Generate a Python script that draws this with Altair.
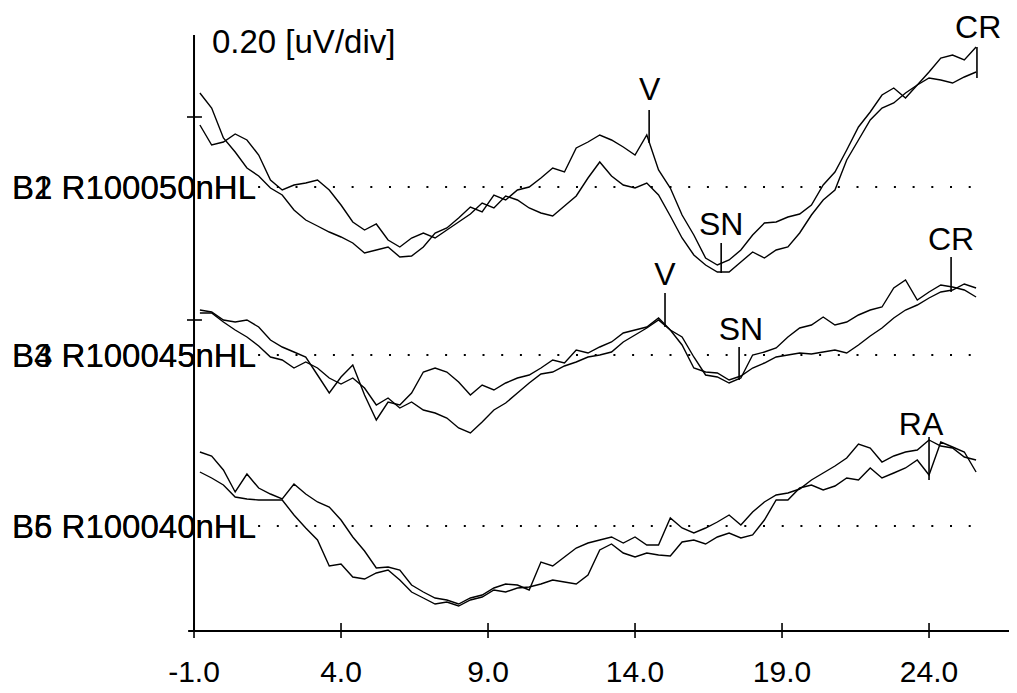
import altair as alt
import pandas as pd

# ---------------- data ----------------
# sample times of the averaged responses (ms)
times = [round(-0.8 + 0.4 * i, 1) for i in range(67)]

# amplitudes relative to each record's baseline, in units of 0.01 uV
b1 = [94, 79, 49, 35, 19, 11, -1, -8, -23, -33, -39, -45, -50, -56, -66, -63, -60, -70, -69, -60,
      -46, -41, -31, -20, -25, -8, -13, -3, 0, 9, 19, 15, 39, 45, 52, 47, 40, 32, 52, 17,
      -1, -28, -48, -71, -78, -73, -63, -48, -36, -35, -30, -27, -18, 2, 15, 37, 60, 75, 92, 99,
      89, 102, 115, 129, 132, 127, 140]
b2 = [62, 42, 45, 53, 47, 32, 7, -3, 2, 4, 7, -3, -18, -35, -43, -37, -53, -60, -51, -46,
      -51, -43, -35, -27, -16, -21, -9, -13, -21, -26, -29, -19, -9, 9, 25, 11, 2, -1, 4, -8,
      -29, -51, -68, -78, -85, -85, -75, -65, -71, -63, -60, -46, -28, -13, -3, 27, 47, 67, 79, 84,
      94, 102, 109, 107, 104, 110, 115]
b3 = [45, 43, 35, 33, 35, 28, 15, 8, 3, -2, -20, -38, -22, -10, -40, -65, -47, -50, -38, -17,
      -13, -17, -27, -40, -30, -35, -28, -23, -20, -13, -5, -8, 5, 2, 8, 13, 22, 25, 28, 37,
      25, 18, -2, -20, -22, -28, -23, 0, 3, 7, 18, 27, 30, 38, 30, 33, 40, 45, 48, 67,
      75, 55, 63, 70, 68, 65, 58]
b4 = [42, 42, 33, 25, 18, 9, -2, -5, -13, -7, -13, -23, -29, -23, -33, -50, -43, -53, -47, -55,
      -58, -63, -73, -78, -67, -55, -48, -38, -28, -19, -17, -11, -7, -2, 0, 3, 13, 20, 27, 35,
      25, 10, -13, -17, -18, -25, -21, -13, -8, -2, 0, 2, 1, 3, 5, 2, 10, 19, 27, 37,
      45, 50, 57, 63, 65, 71, 67]
b5 = [74, 70, 56, 34, 52, 38, 32, 27, 42, 32, 24, 19, 6, -11, -25, -42, -41, -44, -59, -66,
      -72, -74, -78, -72, -69, -62, -58, -59, -64, -36, -40, -31, -22, -17, -14, -11, -17, -11, -19, -19,
      8, -2, -7, -2, 4, 11, 1, 14, 24, 31, 33, 37, 46, 53, 60, 68, 82, 78, 64, 70,
      74, 76, 86, 80, 78, 69, 66]
b6 = [54, 48, 41, 29, 27, 26, 26, 26, 11, -2, -14, -40, -38, -51, -53, -47, -44, -54, -66, -72,
      -78, -76, -80, -74, -71, -64, -66, -62, -61, -58, -54, -56, -58, -49, -24, -18, -27, -31, -27, -29,
      -30, -16, -14, -18, -11, -7, -12, -9, 6, 26, 26, 38, 41, 36, 40, 48, 46, 58, 48, 53,
      58, 66, 51, 84, 79, 74, 54]

records = ["B1 R100050nHL", "B2 R100050nHL", "B3 R100045nHL",
           "B4 R100045nHL", "B5 R100040nHL", "B6 R100040nHL"]
amplitudes = [b1, b2, b3, b4, b5, b6]
record_offsets = [4.44, 4.44, 2.76, 2.76, 1.05, 1.05]   # uV position of each record's baseline

# peak markers
marker_labels = ["V", "SN", "CR", "V", "SN", "CR", "RA"]
marker_times = [14.48, 16.93, 25.63, 15.02, 17.54, 24.75, 24.0]
marker_top = [5.21, 3.88, 5.84, 3.38, 2.84, 3.74, 1.94]
marker_bottom = [4.88, 3.58, 5.53, 3.04, 2.51, 3.39, 1.51]
marker_text_x = [14.5, 16.93, 25.67, 15.02, 17.6, 24.75, 23.73]
marker_text_y = [5.31, 3.96, 5.93, 3.46, 2.91, 3.81, 1.96]

tick_values = [-1.0, 4.0, 9.0, 14.0, 19.0, 24.0]
tick_labels = ["-1.0", "4.0", "9.0", "14.0", "19.0", "24.0"]
scale_text = "0.20 [uV/div]"

X_DOMAIN = [-7.327, 26.72]
Y_DOMAIN = [-0.57, 6.23]
FONT = "Liberation Sans, Arial, sans-serif"


def xs(field):
    return alt.X(field, type="quantitative", scale=alt.Scale(domain=X_DOMAIN, nice=False, zero=False), axis=None)


def ys(field):
    return alt.Y(field, type="quantitative", scale=alt.Scale(domain=Y_DOMAIN, nice=False, zero=False), axis=None)


# ---------------- tables ----------------
rows = []
for name, amp, off in zip(records, amplitudes, record_offsets):
    for t, a in zip(times, amp):
        rows.append({"rec": name, "t": t, "y": off + a / 100.0})
traces = pd.DataFrame(rows)

base_df = pd.DataFrame({"x": [1.18] * 3, "x2": [25.46] * 3, "y": sorted(set(record_offsets), reverse=True)})
label_df = pd.DataFrame({"x": [-7.19] * 6, "y": [o - 0.12 for o in record_offsets], "text": records})
marker_df = pd.DataFrame({"x": marker_times, "y": marker_top, "y2": marker_bottom})
marker_text_df = pd.DataFrame({"x": marker_text_x, "y": marker_text_y, "text": marker_labels})
xtick_df = pd.DataFrame({"x": tick_values, "y": [-0.07] * 6, "y2": [0.08] * 6})
xlab_df = pd.DataFrame({"x": tick_values, "y": [-0.51] * 6, "text": tick_labels})
ytick_df = pd.DataFrame({"x": [-1.24, -1.24], "x2": [-0.73, -0.73], "y": [5.14, 3.11]})
xaxis_df = pd.DataFrame({"x": [-1.2], "x2": [26.72], "y": [0.0]})
yaxis_df = pd.DataFrame({"x": [-1.0], "y": [0.0], "y2": [5.96]})
scale_df = pd.DataFrame({"x": [-0.39], "y": [5.78], "text": [scale_text]})

# ---------------- layers ----------------
lines = alt.Chart(traces).mark_line(color="black", strokeWidth=1.4).encode(
    x=xs("t"), y=ys("y"), detail="rec:N")

dotted = alt.Chart(base_df).mark_rule(color="black", strokeWidth=2, strokeDash=[2, 16.7]).encode(
    x=xs("x"), x2="x2:Q", y=ys("y"))

xaxis = alt.Chart(xaxis_df).mark_rule(color="black", strokeWidth=2.2).encode(
    x=xs("x"), x2="x2:Q", y=ys("y"))
yaxis = alt.Chart(yaxis_df).mark_rule(color="black", strokeWidth=2).encode(
    x=xs("x"), y=ys("y"), y2="y2:Q")
xticks = alt.Chart(xtick_df).mark_rule(color="black", strokeWidth=1.6).encode(
    x=xs("x"), y=ys("y"), y2="y2:Q")
yticks = alt.Chart(ytick_df).mark_rule(color="black", strokeWidth=1.6).encode(
    x=xs("x"), x2="x2:Q", y=ys("y"))
markers = alt.Chart(marker_df).mark_rule(color="black", strokeWidth=1.6).encode(
    x=xs("x"), y=ys("y"), y2="y2:Q")

rec_text = alt.Chart(label_df).mark_text(align="left", baseline="alphabetic", fontSize=33,
                                         font=FONT, color="black").encode(
    x=xs("x"), y=ys("y"), text="text:N")
marker_text = alt.Chart(marker_text_df).mark_text(align="center", baseline="alphabetic", fontSize=32,
                                                  font=FONT, color="black").encode(
    x=xs("x"), y=ys("y"), text="text:N")
xlab_text = alt.Chart(xlab_df).mark_text(align="center", baseline="alphabetic", fontSize=30,
                                         font=FONT, color="black").encode(
    x=xs("x"), y=ys("y"), text="text:N")
scale_txt = alt.Chart(scale_df).mark_text(align="left", baseline="alphabetic", fontSize=33,
                                          font=FONT, color="black").encode(
    x=xs("x"), y=ys("y"), text="text:N")

chart = alt.layer(
    dotted, lines, xaxis, yaxis, xticks, yticks, markers,
    rec_text, marker_text, xlab_text, scale_txt
).properties(
    width=1001, height=680, padding=0,
    autosize=alt.AutoSizeParams(type="none"),
    background="white",
).configure_view(stroke=None)

chart.save("out.html", embed_options={"renderer": "svg", "actions": False})
